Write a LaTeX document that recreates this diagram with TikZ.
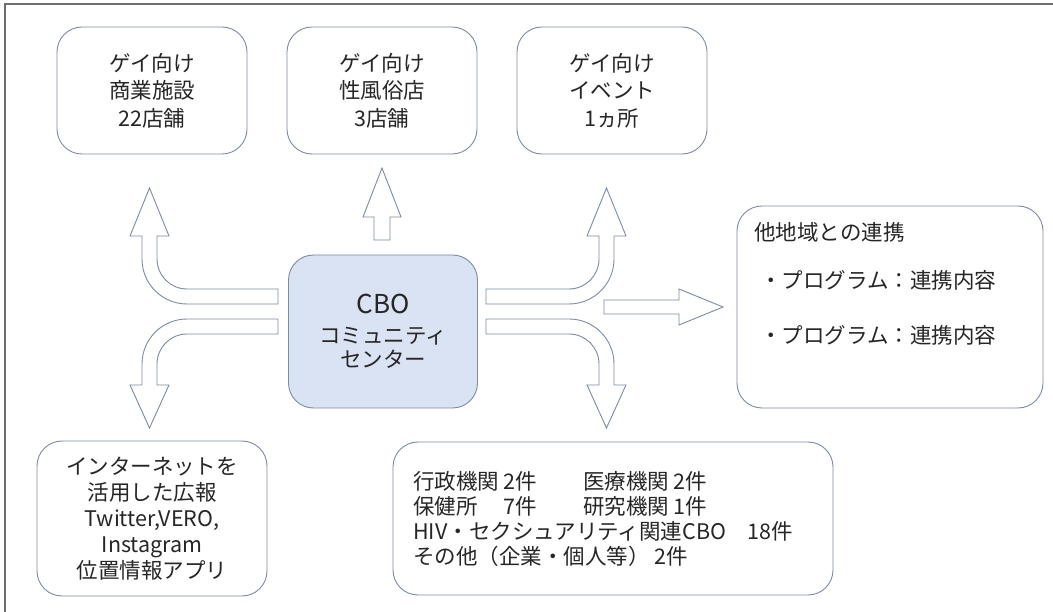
\documentclass[tikz,border=0pt]{standalone}
\usepackage{fontspec}
\setmainfont{Noto Sans CJK JP}
\definecolor{boxline}{RGB}{124,138,162}
\definecolor{cbofill}{RGB}{218,227,243}
\definecolor{txt}{RGB}{38,38,38}
\definecolor{framegray}{RGB}{110,110,110}
\begin{document}
\begin{tikzpicture}[x=1pt,y=-1pt,
 roundbox/.style={draw=boxline,line width=0.9pt,rounded corners=25pt,fill=white,inner sep=0pt,text=txt,align=center,font=\fontsize{21.5}{27.5}\selectfont},
 blockarrow/.style={draw=boxline,line width=0.9pt,fill=white,line join=miter},
 txtline/.style={text=txt,anchor=west,inner sep=0pt,font=\fontsize{21.5}{28}\selectfont}]
 \useasboundingbox (0,0) rectangle (1053,612);
 \draw[framegray,line width=2pt] (1053,4) -- (5,4) -- (5,612);
 \node[roundbox,minimum width=190pt,minimum height=127pt] (shop) at (152,90.5) {ゲイ向け\\商業施設\\22店舗};
 \node[roundbox,minimum width=190pt,minimum height=127pt] (fuzoku) at (382,90.5) {ゲイ向け\\性風俗店\\3店舗};
 \node[roundbox,minimum width=190pt,minimum height=127pt] (event) at (612,90.5) {ゲイ向け\\イベント\\1ヵ所};
 \node[roundbox,fill=cbofill,minimum width=189pt,minimum height=153pt,font=\fontsize{21.5}{24}\selectfont] (cbo) at (383,331.5) {{\fontsize{26}{30}\selectfont CBO}\\[6pt]コミュニティ\\センター};
 \node[roundbox,minimum width=306pt,minimum height=202pt] (renkei) at (890,307) {};
 \node[txtline] (renkeititle) at (754,232) {他地域との連携};
 \node[txtline] (prog1) at (760,280) {・プログラム：連携内容};
 \node[txtline] (prog2) at (760,335) {・プログラム：連携内容};
 \node[roundbox,minimum width=230pt,minimum height=155pt,font=\fontsize{21.5}{26}\selectfont] (net) at (152,518.5) {インターネットを\\活用した広報\\Twitter,VERO,\\Instagram\\位置情報アプリ};
 \node[roundbox,minimum width=440pt,minimum height=153pt] (kikan) at (613,518.5) {};
 \node[txtline,align=left,font=\fontsize{21.5}{25}\selectfont] (kikanlist) at (413,518.5) {\makebox[170pt][l]{行政機関 2件}医療機関 2件\\\makebox[170pt][l]{保健所　 7件}研究機関 1件\\HIV・セクシュアリティ関連CBO　18件\\その他（企業・個人等） 2件};
 \draw[blockarrow] (374,240) -- (374,217) -- (363,217) -- (382,168) -- (401,217) -- (390,217) -- (390,240) -- cycle;
 \draw[blockarrow] (278,289) -- (187,289) arc[start angle=270,end angle=180,radius=30pt] -- (157,236) -- (169,236) -- (149.5,188) -- (130,236) -- (142,236) -- (142,259) arc[start angle=180,end angle=270,radius=45pt] -- (278,304) -- cycle;
 \draw[blockarrow] (278,334) -- (187,334) arc[start angle=90,end angle=180,radius=30pt] -- (157,385) -- (169,385) -- (149.5,428) -- (130,385) -- (142,385) -- (142,364) arc[start angle=180,end angle=90,radius=45pt] -- (278,319) -- cycle;
 \draw[blockarrow] (486,289) -- (569,289) arc[start angle=270,end angle=360,radius=30pt] -- (599,236) -- (587,236) -- (606.5,188) -- (626,236) -- (614,236) -- (614,259) arc[start angle=0,end angle=-90,radius=45pt] -- (486,304) -- cycle;
 \draw[blockarrow] (486,334) -- (569,334) arc[start angle=90,end angle=0,radius=30pt] -- (599,385) -- (587,385) -- (606.5,428) -- (626,385) -- (614,385) -- (614,364) arc[start angle=0,end angle=90,radius=45pt] -- (486,319) -- cycle;
 \draw[blockarrow] (604,300) -- (679,300) -- (679,289) -- (723,307) -- (679,325) -- (679,314) -- (604,314) -- cycle;
\end{tikzpicture}
\end{document}
